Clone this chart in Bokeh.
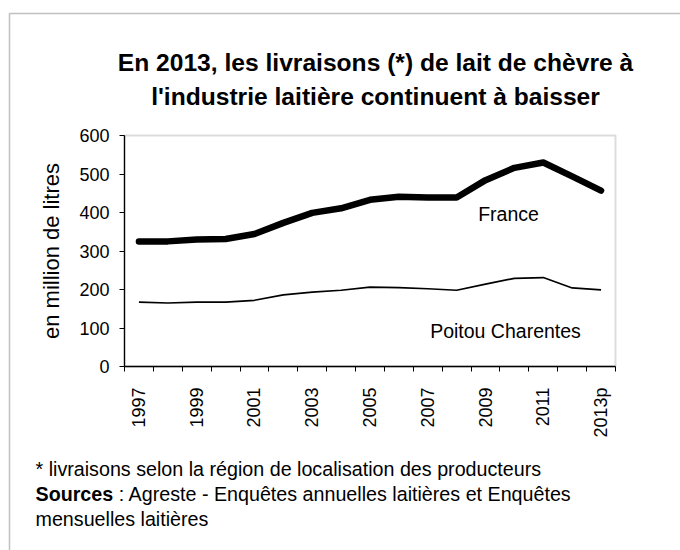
from math import pi
from bokeh.plotting import figure
from bokeh.models import (Range1d, LinearAxis, FixedTicker, SingleIntervalTicker,
                          Label, PolyAnnotation, BoxAnnotation)
from bokeh.embed import file_html
from bokeh.resources import INLINE

years = ["1997", "1998", "1999", "2000", "2001", "2002", "2003", "2004", "2005",
         "2006", "2007", "2008", "2009", "2010", "2011", "2012", "2013p"]
france = [325, 325, 330, 331, 344, 373, 399, 411, 433, 441, 439, 439, 484, 516, 530, 494, 457]
poitou = [167, 165, 167, 167, 172, 186, 193, 198, 206, 205, 202, 198, 214, 229, 231, 204, 199]
y_max = 600
y_ticks_step = 100
title_lines = ["En 2013, les livraisons (*) de lait de chèvre à",
               "l'industrie laitière continuent à baisser"]
y_label = "en million de litres"
series_names = ["France", "Poitou Charentes"]
note1 = "* livraisons selon la région de localisation des producteurs"
note2_bold = "Sources"
note2_rest = ": Agreste - Enquêtes annuelles laitières et Enquêtes"
note3 = "mensuelles laitières"

FONT = "Liberation Sans"
NOTE_FS = 19.7

# page geometry (pixels)
W, H = 680, 550
FL, FR, FT, FB = 124, 615, 135, 366   # plot area left/right/top/bottom

n = len(years)
xpos = list(range(n))
px_x = (FR - FL) / n
px_y = (FB - FT) / y_max
x_start = -0.5 - FL / px_x
x_end = (n - 0.5) + (W - FR) / px_x
y_start = -(H - FB) / px_y
y_end = y_max + FT / px_y

p = figure(width=W, height=H, x_range=Range1d(x_start, x_end),
           y_range=Range1d(y_start, y_end), output_backend="svg",
           toolbar_location=None, x_axis_location=None, y_axis_location=None,
           min_border=0)
p.xgrid.visible = False
p.ygrid.visible = False
p.outline_line_color = None
p.background_fill_color = "white"
p.border_fill_color = "white"

# plot-area frame (grey)
p.add_layout(BoxAnnotation(left=-0.5, right=n - 0.5, bottom=0, top=y_max,
                           fill_color=None, line_color="#8c8c8c", line_width=2,
                           level="underlay"))

# y axis
yax = LinearAxis(ticker=SingleIntervalTicker(interval=y_ticks_step),
                 fixed_location=-0.5, bounds=(0, y_max),
                 minor_tick_line_color=None, major_tick_in=0, major_tick_out=5,
                 axis_line_color="black", axis_line_width=1.3,
                 major_tick_line_color="black",
                 major_label_text_font=FONT, major_label_text_font_size="18px",
                 major_label_text_color="black", major_label_standoff=10,
                 axis_label=y_label, axis_label_text_font=FONT,
                 axis_label_text_font_size="22px", axis_label_text_font_style="normal",
                 axis_label_text_color="black", axis_label_standoff=12)
p.add_layout(yax, "left")

# x axis: labels at category centres (every other one), tick marks between categories
label_idx = [i for i in range(n) if i % 2 == 0]
edge_ticks = [i - 0.5 for i in range(n + 1)]
xax = LinearAxis(ticker=FixedTicker(ticks=label_idx, minor_ticks=edge_ticks),
                 fixed_location=0, bounds=(-0.5, n - 0.5),
                 major_label_overrides={i: years[i] for i in label_idx},
                 major_label_orientation=pi / 2,
                 major_tick_line_color=None,
                 minor_tick_line_color="black", minor_tick_in=0, minor_tick_out=5,
                 axis_line_color="black", axis_line_width=1.3,
                 major_tick_in=0, major_tick_out=0,
                 major_label_text_font=FONT,
                 major_label_text_font_size="18px",
                 major_label_text_color="black",
                 major_label_standoff=16)
p.add_layout(xax, "below")

# data lines
p.line(x=xpos, y=france, line_width=6.5, line_color="black", line_cap="round", line_join="round")
p.line(x=xpos, y=poitou, line_width=1.7, line_color="black", line_join="round")


def lab(x, y, text, size="19px", style="normal", align="left"):
    p.add_layout(Label(x=x, y=H - y, x_units="screen", y_units="screen", text=text,
                       text_font=FONT, text_font_size=size, text_font_style=style,
                       text_align=align, text_baseline="middle", text_color="black"))


# series labels
lab(508, 213, series_names[0], size="19.5px", align="center")
lab(505, 330, series_names[1], size="19.5px", align="center")

# title
lab(375, 62, title_lines[0], size="24.6px", style="bold", align="center")
lab(375, 96, title_lines[1], size="24.6px", style="bold", align="center")

# notes
nfs = f"{NOTE_FS}px"
lab(35, 468, note1, size=nfs)
lab(35, 493, note2_bold, size=nfs, style="bold")
lab(35 + (3.946 + 0.278) * NOTE_FS, 493, note2_rest, size=nfs)
lab(35, 518, note3, size=nfs)

# outer frame (only top and left edges fall inside the page)
p.add_layout(PolyAnnotation(xs=[9, 9, W + 50, W + 50], ys=[-50, H - 13, H - 13, -50],
                            xs_units="screen", ys_units="screen",
                            fill_color=None, line_color="#333333", line_width=1.5))

open("out.html", "w").write(file_html(p, INLINE))
